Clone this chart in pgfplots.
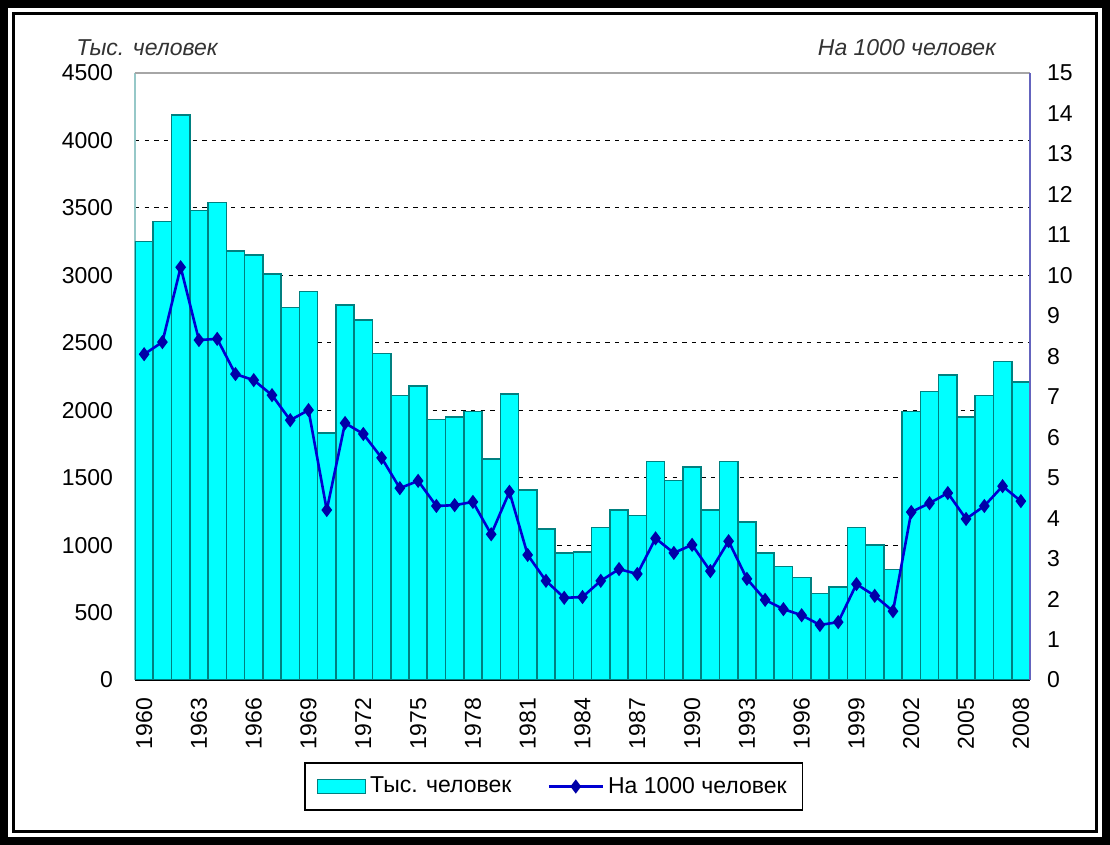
\documentclass[border=0pt]{standalone}
\usepackage{pgfplots}
\usepackage{pgfplotstable}
\pgfplotsset{compat=1.18}
\usepackage{fontspec}
\setmainfont{Liberation Sans}
\definecolor{barfill}{RGB}{0,255,255}
\definecolor{baredge}{RGB}{0,128,128}
\definecolor{linec}{RGB}{0,0,210}
\definecolor{leftax}{RGB}{150,200,200}
\definecolor{rightax}{RGB}{100,100,190}
\pgfplotstableread{
year val
1960 3250
1961 3400
1962 4190
1963 3480
1964 3540
1965 3180
1966 3150
1967 3010
1968 2760
1969 2880
1970 1830
1971 2780
1972 2670
1973 2420
1974 2110
1975 2180
1976 1930
1977 1950
1978 1990
1979 1640
1980 2120
1981 1410
1982 1120
1983 940
1984 950
1985 1130
1986 1260
1987 1220
1988 1620
1989 1480
1990 1580
1991 1260
1992 1620
1993 1170
1994 940
1995 840
1996 760
1997 640
1998 690
1999 1130
2000 1000
2001 820
2002 1990
2003 2140
2004 2260
2005 1950
2006 2110
2007 2360
2008 2210
}\bars
\pgfplotstableread{
year val
1960 8.05
1961 8.35
1962 10.2
1963 8.4
1964 8.43
1965 7.56
1966 7.41
1967 7.04
1968 6.42
1969 6.67
1970 4.2
1971 6.35
1972 6.08
1973 5.49
1974 4.74
1975 4.92
1976 4.3
1977 4.32
1978 4.4
1979 3.6
1980 4.65
1981 3.09
1982 2.45
1983 2.03
1984 2.05
1985 2.45
1986 2.74
1987 2.62
1988 3.5
1989 3.14
1990 3.34
1991 2.69
1992 3.43
1993 2.5
1994 1.98
1995 1.75
1996 1.6
1997 1.36
1998 1.43
1999 2.37
2000 2.08
2001 1.7
2002 4.15
2003 4.37
2004 4.62
2005 3.98
2006 4.3
2007 4.79
2008 4.42
}\rate
\begin{document}
\begin{tikzpicture}
\pgfplotsset{
  common/.style={
    at={(67.5pt,82.5pt)}, anchor=south west,
    scale only axis, width=447.5pt, height=303.5pt,
    xmin=1959.5, xmax=2008.5,
    major tick length=0pt,
    tick label style={font=\fontsize{11.5}{13}\selectfont},
    /pgf/number format/assume math mode=true,
    /pgf/number format/1000 sep={},
  }
}
\begin{axis}[common,
  ymin=0, ymax=4500,
  ytick={0,500,...,4500},
  xtick={1960,1963,...,2008},
  axis x line*=bottom, axis y line*=left,
  axis line style={-},
  x axis line style={black, line width=0.9pt},
  y axis line style={leftax, line width=0.7pt},
  ymajorgrids,
  grid style={black, dash pattern=on 2.2pt off 2.6pt, line width=0.55pt},
  xticklabel style={rotate=90, anchor=east, xshift=-5.5pt},
  yticklabel style={xshift=-7.5pt},
]
\addplot[ybar, bar width=1, fill=barfill, draw=baredge, line width=0.8pt] table[x=year,y=val]{\bars};
\draw[gray!70, line width=0.7pt] (rel axis cs:0,1) -- (rel axis cs:1,1);
\end{axis}
\begin{axis}[common,
  ymin=0, ymax=15,
  ytick={0,1,...,15},
  axis y line*=right, axis x line=none,
  axis line style={-},
  y axis line style={rightax, line width=0.7pt},
  yticklabel style={xshift=5pt},
  legend columns=2,
  legend style={at={(0.468,-0.1755)}, anchor=center, draw=black, line width=0.6pt,
    font=\fontsize{11.5}{13}\selectfont, inner xsep=6pt, inner ysep=5pt,
    /tikz/every even column/.append style={column sep=16pt}},
]
\addlegendimage{legend image code/.code={\draw[fill=barfill,draw=baredge,line width=0.6pt] (0pt,-3.5pt) rectangle (24pt,3.5pt);}}
\addlegendentry{Тыс. человек}
\addplot[color=linec, line width=1.3pt, mark=diamond*, mark size=2.5pt,
  mark options={fill=linec!80!black, draw=linec!80!black},
  legend image code/.code={\draw[mark repeat=2,mark phase=2] plot coordinates {(0pt,0pt) (13.5pt,0pt) (27pt,0pt)};}]
  table[x=year,y=val]{\rate};
\addlegendentry{На 1000 человек}
\end{axis}
\node[font=\itshape\fontsize{11.5}{13}\selectfont, text=black!80] at (73.5pt,398.5pt) {Тыс. человек};
\node[font=\itshape\fontsize{11.5}{13}\selectfont, text=black!80] at (453.5pt,398.5pt) {На 1000 человек};
\draw[line width=4pt] (2pt,2pt) rectangle (553pt,420.5pt);
\draw[line width=1.5pt] (6.6pt,6.6pt) rectangle (548.4pt,415.9pt);
\end{tikzpicture}
\end{document}
